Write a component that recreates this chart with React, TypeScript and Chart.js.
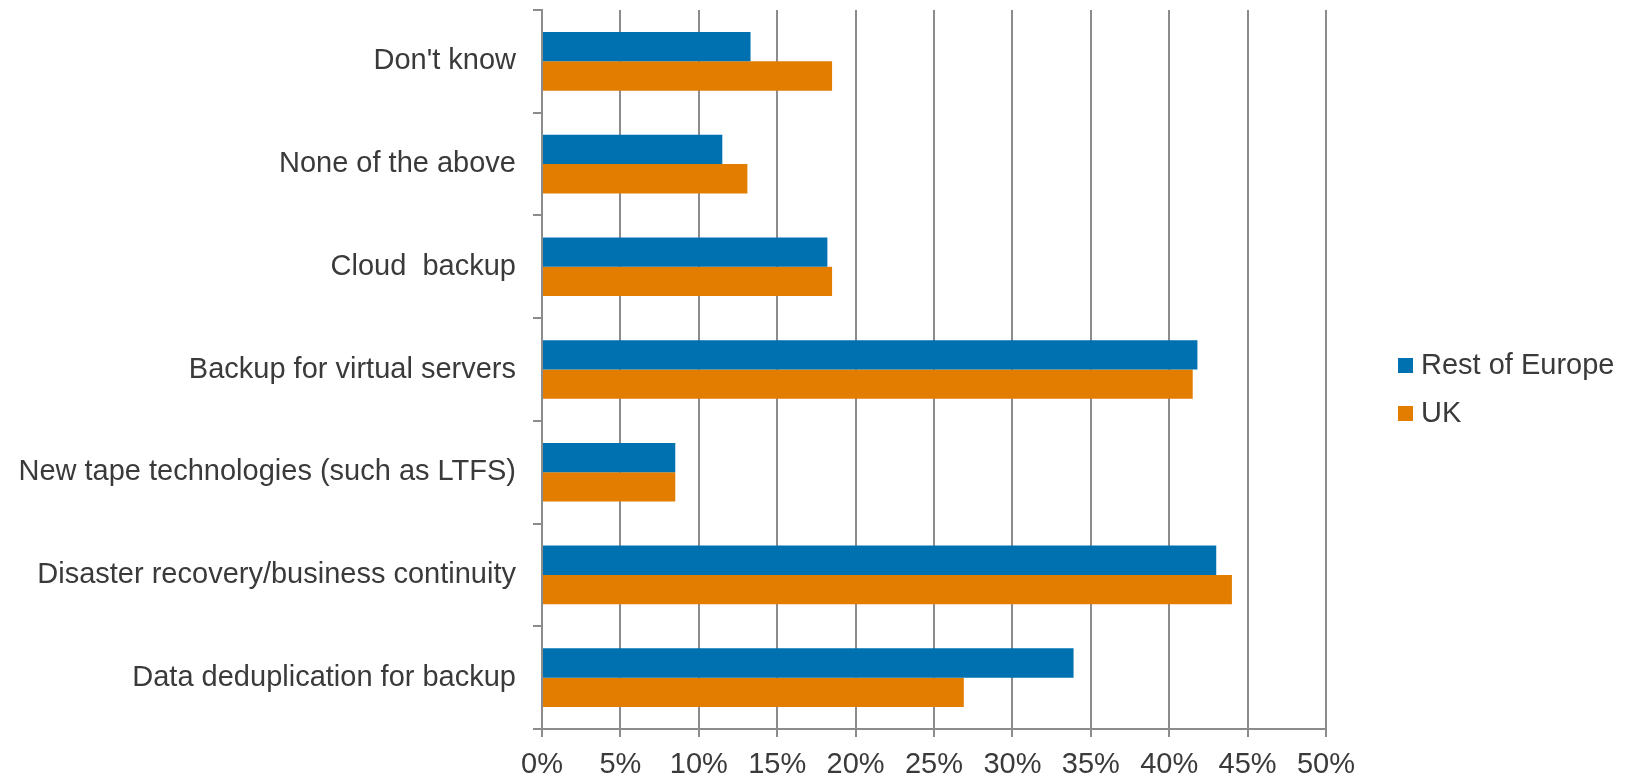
import React, { useEffect, useRef } from "react";
import { Chart, registerables } from "chart.js";

Chart.register(...registerables);

const categories = [
  "Don't know",
  "None of the above",
  "Cloud  backup",
  "Backup for virtual servers",
  "New tape technologies (such as LTFS)",
  "Disaster recovery/business continuity",
  "Data deduplication for backup",
];
const restOfEurope = [13.3, 11.5, 18.2, 41.8, 8.5, 43.0, 33.9];
const uk = [18.5, 13.1, 18.5, 41.5, 8.5, 44.0, 26.9];
const seriesNames = ["Rest of Europe", "UK"];
const seriesColors = ["#0071B0", "#E37D00"];
const xMin = 0;
const xMax = 50;
const xStep = 5;

const FONT = "'Liberation Sans', Arial, sans-serif";
const FS = 29;
const TEXT = "#3a3a3a";
const GRID = "#8c8c8c";

const legendPlugin = {
  id: "customLegend",
  afterDraw(chart: any) {
    const ctx = chart.ctx;
    const x0 = chart.chartArea.right + 72;
    const cy = chart.height / 2;
    ctx.save();
    chart.data.datasets.forEach((ds: any, i: number) => {
      const y = cy - 24 + i * 48;
      ctx.fillStyle = ds.backgroundColor;
      ctx.fillRect(x0, y - 7.5, 15, 15);
      ctx.fillStyle = TEXT;
      ctx.font = `${FS}px ${FONT}`;
      ctx.textBaseline = "middle";
      ctx.textAlign = "left";
      ctx.fillText(ds.label, x0 + 23, y);
    });
    ctx.restore();
  },
};

export default function App() {
  const ref = useRef<HTMLCanvasElement>(null);

  useEffect(() => {
    if (!ref.current) return;
    const chart = new Chart(ref.current, {
      type: "bar",
      data: {
        labels: categories,
        datasets: [
          { label: seriesNames[0], data: restOfEurope, backgroundColor: seriesColors[0], borderWidth: 0 },
          { label: seriesNames[1], data: uk, backgroundColor: seriesColors[1], borderWidth: 0 },
        ],
      },
      options: {
        indexAxis: "y",
        responsive: false,
        animation: false,
        devicePixelRatio: 1,
        categoryPercentage: 0.571,
        barPercentage: 1,
        layout: { padding: { top: 10, right: 304, bottom: 0, left: 0 } },
        font: { family: FONT, size: FS },
        plugins: {
          legend: { display: false },
          tooltip: { enabled: false },
        },
        scales: {
          x: {
            min: xMin,
            max: xMax,
            afterFit(scale: any) {
              scale.height = 50;
            },
            ticks: {
              stepSize: xStep,
              autoSkip: false,
              maxRotation: 0,
              padding: 11,
              color: TEXT,
              font: { family: FONT, size: FS },
              callback: (v: any) => v + "%",
            },
            grid: { color: GRID, lineWidth: 2, tickLength: 8, drawTicks: true },
            border: { color: GRID, width: 2 },
          },
          y: {
            afterFit(scale: any) {
              scale.width = 542;
              scale.paddingTop = 0;
              scale.paddingBottom = 0;
            },
            ticks: {
              padding: 17,
              color: TEXT,
              font: { family: FONT, size: FS },
            },
            grid: {
              offset: true,
              drawOnChartArea: false,
              drawTicks: true,
              tickLength: 9,
              color: GRID,
              lineWidth: 2,
            },
            border: { color: GRID, width: 2 },
          },
        },
      },
      plugins: [legendPlugin],
    } as any);
    return () => chart.destroy();
  }, []);

  return (
    <div style={{ position: "fixed", left: 0, top: 0, width: 1630, height: 779, background: "#fff" }}>
      <canvas ref={ref} width={1630} height={779} style={{ display: "block" }} />
    </div>
  );
}
